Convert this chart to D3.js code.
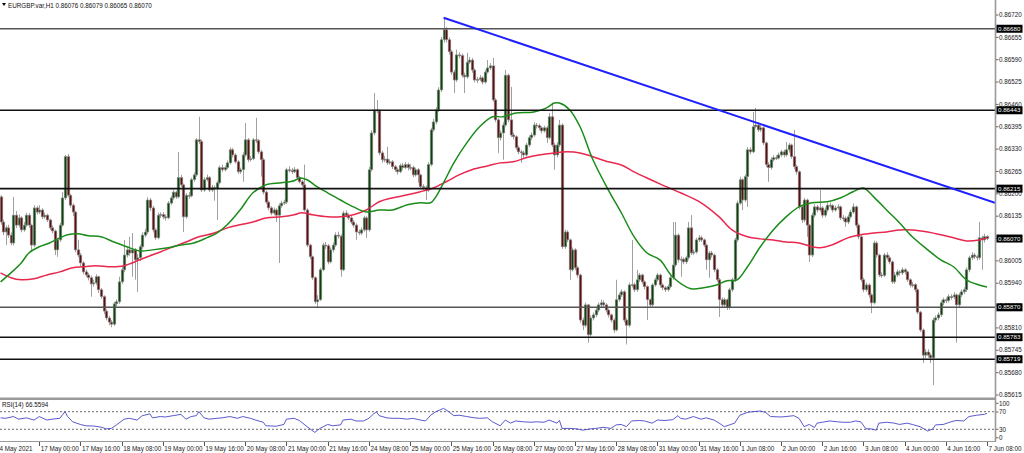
<!DOCTYPE html>
<html><head><meta charset="utf-8">
<script src="https://cdn.jsdelivr.net/npm/d3@7"></script>
<style>html,body{margin:0;padding:0;background:#fff;overflow:hidden}svg{display:block}</style>
</head><body><svg id="c" width="1024" height="453"></svg>
<script>
// ---------- DATA (prices in points of 0.00001 above 0.80000) ----------
const symbolText = "EURGBP.var,H1";
const headerOHLC = ["0.86076", "0.86079", "0.86065", "0.86070"];
const PRICE_BASE = 0.8, POINT = 0.00001;
const firstOpen = 6200;
const closes = [
6191,6118,6089,6101,6080,6057,6138,6109,6130,6095,
6109,6138,6109,6051,6159,6147,6153,6133,6138,6124,
6101,6092,6037,6066,6109,6188,6308,6196,6167,6147,
6037,6022,5999,5973,5964,5956,5938,5941,5959,5921,
5901,5859,5839,5827,5821,5880,5886,5944,5979,6022,
6037,6028,6037,6008,6014,6046,6080,6089,6182,6159,
6095,6072,6138,6140,6133,6130,6173,6188,6205,6191,
6247,6226,6133,6196,6194,6241,6255,6357,6352,6211,
6241,6247,6211,6218,6215,6232,6276,6270,6276,6290,
6328,6313,6293,6264,6270,6313,6357,6299,6302,6357,
6355,6322,6299,6205,6176,6159,6144,6153,6138,6165,
6173,6176,6270,6268,6264,6270,6247,6235,6226,6153,
6051,6017,5956,5886,5892,5979,6051,6049,6002,6037,
6051,6080,6077,5979,6144,6138,6130,6118,6109,6089,
6086,6095,6130,6095,6270,6377,6444,6441,6319,6299,
6301,6290,6293,6279,6270,6264,6282,6276,6285,6276,
6277,6255,6270,6255,6221,6218,6211,6285,6386,6409,
6444,6502,6648,6677,6648,6613,6554,6531,6604,6602,
6545,6540,6583,6589,6560,6531,6533,6537,6525,6554,
6566,6572,6473,6415,6363,6377,6400,6545,6415,6371,
6366,6334,6322,6319,6313,6342,6363,6371,6400,6398,
6392,6383,6392,6363,6424,6342,6313,6342,6400,6046,
6089,6066,5979,6037,5985,5964,5833,5818,5877,5790,
5839,5848,5862,5877,5883,5877,5862,5848,5833,5804,
5892,5906,5915,5833,5818,5935,5936,5921,5950,5964,
5944,5930,5892,5877,5935,5950,5964,5935,5927,5921,
5930,5956,5993,6080,6008,6010,6002,6014,6101,6028,
6031,6066,6072,6066,6051,6008,6028,6022,5979,5950,
5892,5877,5892,5869,5921,5950,6066,6173,6241,6182,
6250,6328,6322,6395,6400,6386,6392,6348,6285,6276,
6299,6305,6304,6313,6322,6313,6328,6342,6308,6279,
6264,6162,6124,6182,6109,6022,6138,6162,6153,6159,
6138,6153,6167,6166,6153,6159,6162,6130,6129,6118,
6133,6147,6162,6109,6075,5950,5921,5935,5906,5883,
6057,6022,5964,5963,6022,6014,6002,5944,5964,5973,
5970,5979,5973,5950,5935,5936,5921,5856,5804,5731,
5740,5731,5723,5833,5839,5848,5883,5892,5890,5901,
5900,5906,5877,5906,5915,5921,5979,6014,6022,6017,
6014,6072,6066,6076,6070];
const highs = [
6215,6196,6125,6108,6110,6088,6191,6150,6140,6135,
6118,6145,6144,6113,6167,6165,6167,6158,6145,6142,
6128,6108,6096,6072,6115,6205,6313,6316,6200,6172,
6150,6066,6028,6004,5980,5970,5962,5950,5966,5962,
5926,5905,5864,5845,5833,5886,5893,5959,5988,6066,
6045,6075,6086,6042,6025,6052,6088,6098,6190,6188,
6165,6100,6145,6146,6147,6140,6179,6194,6212,6209,
6322,6255,6230,6202,6205,6247,6262,6362,6424,6358,
6248,6256,6252,6226,6224,6238,6282,6285,6282,6297,
6335,6333,6318,6298,6276,6320,6406,6362,6310,6362,
6421,6360,6328,6304,6210,6180,6164,6160,6158,6172,
6180,6183,6276,6280,6275,6278,6274,6252,6240,6285,
6158,6055,6020,5960,5905,5985,6058,6060,6054,6044,
6058,6088,6090,6082,6150,6152,6143,6135,6124,6114,
6096,6102,6136,6135,6278,6385,6493,6473,6446,6325,
6310,6337,6300,6298,6284,6276,6288,6290,6292,6290,
6286,6282,6276,6275,6258,6228,6224,6292,6392,6418,
6452,6510,6656,6712,6685,6655,6618,6560,6619,6612,
6608,6552,6610,6598,6595,6565,6540,6545,6542,6560,
6589,6580,6595,6478,6420,6384,6408,6560,6550,6511,
6378,6370,6340,6328,6325,6348,6370,6378,6408,6406,
6404,6396,6398,6397,6435,6465,6348,6350,6415,6405,
6096,6094,6070,6044,6042,5990,5968,5840,5884,5880,
5846,5855,5868,5884,5892,5890,5882,5866,5852,5838,
5950,5912,5922,5920,5838,5942,6066,5942,5979,5970,
5968,5948,5934,5896,5940,5956,5970,5968,5940,5932,
5936,5962,6118,6118,6085,6018,6015,6020,6118,6138,
6038,6072,6080,6078,6070,6055,6034,6034,6026,5984,
5955,5898,5898,5896,5927,5956,6072,6180,6250,6245,
6256,6336,6335,6438,6450,6408,6400,6396,6352,6292,
6306,6312,6312,6320,6328,6328,6351,6348,6346,6386,
6284,6268,6168,6188,6186,6112,6145,6170,6168,6211,
6164,6160,6174,6175,6170,6166,6170,6166,6138,6134,
6140,6154,6172,6166,6114,6080,5956,5942,5940,5910,
6064,6062,6026,5972,6028,6030,6020,6006,5972,5980,
5978,5986,5984,5976,5955,5944,5940,5925,5860,5808,
5748,5748,5736,5840,5846,5855,5890,5898,5898,5908,
5908,5914,5910,5912,5922,5928,5986,6020,6030,6028,
6022,6118,6078,6084,6079];
const lows = [
6180,6110,6080,6051,6072,6051,6050,6100,6102,6088,
6090,6104,6101,6031,6045,6140,6141,6127,6128,6118,
6095,6085,6022,6017,6060,6104,6182,6190,6160,6135,
6030,6015,5990,5966,5958,5948,5901,5930,5935,5912,
5895,5850,5832,5818,5812,5816,5872,5880,5938,5972,
6015,6020,5959,5950,5915,6005,6040,6074,6083,6150,
6088,6066,6068,6130,6126,6122,6126,6168,6183,6185,
6187,6220,6089,6128,6186,6190,6235,6250,6345,6205,
6206,6236,6205,6205,6180,6124,6228,6264,6265,6272,
6285,6306,6288,6258,6258,6235,6308,6292,6294,6298,
6348,6316,6250,6198,6170,6152,6138,6138,6118,5999,
6160,6168,6170,6262,6258,6260,6240,6230,6220,6148,
6045,6010,5950,5880,5871,5888,5975,6040,5995,5998,
6030,6046,6070,5959,5975,6132,6124,6112,6102,6066,
6080,6080,6090,6072,6090,6265,6370,6435,6312,6290,
6292,6284,6285,6272,6264,6256,6260,6270,6272,6268,
6268,6248,6250,6232,6214,6210,6182,6205,6280,6380,
6402,6438,6496,6640,6640,6605,6546,6493,6525,6594,
6538,6493,6535,6578,6552,6524,6522,6528,6518,6520,
6550,6560,6468,6408,6319,6355,6299,6395,6408,6365,
6358,6328,6315,6290,6305,6308,6336,6356,6366,6390,
6385,6376,6378,6348,6358,6336,6270,6306,6336,6040,
6040,6060,5950,5974,5978,5956,5825,5804,5812,5767,
5785,5832,5842,5856,5870,5870,5855,5840,5826,5796,
5800,5886,5900,5826,5762,5812,5928,5914,5915,5944,
5938,5922,5833,5870,5872,5930,5945,5928,5920,5915,
5916,5926,5950,5988,6000,5959,5995,5996,6008,6022,
6022,6026,6060,6060,6045,5979,5956,6015,5972,5944,
5842,5870,5870,5862,5864,5915,5944,6060,6168,6153,
6176,6162,6315,6318,6390,6380,6380,6342,6278,6235,
6270,6294,6298,6300,6308,6306,6308,6320,6302,6272,
6256,6155,6115,6118,6075,6002,6016,6132,6146,6148,
6130,6132,6148,6158,6146,6148,6154,6124,6120,6104,
6112,6128,6142,6102,6068,5944,5914,5915,5898,5853,
5878,6015,5958,5956,5958,6008,5995,5938,5938,5958,
5962,5964,5966,5944,5928,5928,5914,5850,5798,5708,
5722,5724,5708,5644,5826,5832,5842,5876,5882,5884,
5892,5894,5767,5870,5900,5908,5915,5972,6008,6010,
6006,6008,5979,6058,6065];

// moving averages (bar index, value in points)
const maGreenBars = [1,5,9,12,16,20,24,27,31,35,40,45,50,55,60,66,71,76,81,85,89,94,99,104,110,115,117,120,124,128,133,138,143,148,153,159,164,168,170,173,177,182,187,192,196,201,208,213,216,218,222,226,231,237,242,247,252,257,262,269,274,279,283,287,291,296,301,306,311,316,322,327,332,336,340,345,350,355,361,366,371,376,381,384];
const maGreenVals = [5944,5970,5999,6028,6046,6057,6072,6081,6084,6078,6075,6060,6046,6034,6037,6043,6051,6057,6072,6086,6110,6153,6203,6226,6232,6238,6246,6241,6220,6203,6182,6162,6147,6153,6153,6168,6174,6174,6191,6232,6290,6348,6395,6424,6424,6435,6438,6450,6464,6464,6444,6395,6299,6211,6145,6075,6028,6008,5958,5924,5927,5935,5947,5950,5988,6046,6095,6133,6162,6174,6177,6188,6206,6217,6191,6153,6116,6075,6037,6008,5988,5950,5935,5929];
const maRedBars = [1,5,9,14,19,24,29,33,38,44,49,52,58,63,68,73,78,84,89,94,99,104,110,115,118,122,128,133,138,143,148,153,159,164,169,174,179,184,190,195,200,205,210,216,221,226,231,237,242,247,252,257,265,273,280,285,291,296,301,306,311,316,319,324,330,335,340,345,350,355,361,366,371,376,381,384];
const maRedVals = [5970,5956,5950,5953,5964,5973,5985,5988,5991,5988,5991,5999,6017,6031,6046,6060,6075,6086,6101,6110,6118,6130,6133,6139,6145,6139,6133,6133,6139,6153,6177,6188,6197,6206,6217,6235,6255,6270,6281,6290,6293,6305,6313,6319,6322,6319,6308,6293,6284,6264,6246,6229,6203,6174,6133,6095,6075,6069,6066,6060,6057,6046,6043,6052,6072,6081,6086,6089,6095,6095,6089,6081,6072,6063,6066,6072];

// RSI(14) samples (bar index, value)
const rsiBars = [1,3,6,8,11,14,16,19,21,24,26,27,29,32,34,37,40,42,44,46,49,51,54,56,59,60,63,65,68,71,73,75,77,78,80,82,85,87,90,93,95,98,100,103,104,108,111,112,115,117,120,123,125,128,130,133,134,137,139,142,144,146,147,148,151,153,156,159,161,164,166,168,170,173,175,177,179,182,185,187,190,192,195,197,199,201,204,207,209,212,214,217,218,219,222,225,227,230,232,235,238,240,242,244,246,249,251,254,256,259,262,264,265,267,270,273,275,278,280,282,284,286,288,291,293,296,298,300,304,306,309,311,313,315,317,318,320,323,326,328,331,333,335,337,339,341,342,345,348,350,353,355,358,361,363,364,367,370,372,375,377,380,383,384];
const rsiVals = [56,55,59,53,56,51,59,51,53,55,70,59,47,41,38,37.5,35,31,32,40,53,55,51,61,65,56,59,58,61,64,53,59,61,70,56,53,55,56,59,55,59,55,51,46,38,37,41,53,55,50,36,23,32,41,38,40,51,53,49,49,55,66,69,61,56,55,55,53,55,51,49,62,70,77.5,70,61,62,59,56,55,56,47,38,51,44,49,47,46,47,46,51,44,50,32,32,31,28,31,32,34.5,32,40,41,36,49,50,49,44,51,50,52,61,55,53,59,53,56,51,44,36,40,44,62,68.5,70,71.5,68.5,59,58,59,61,55,36,41,34,44,46,49,47,46,46,49,47,31,31,28,44,46,44,41,44,41,36,26,31,40,41,47,50,49,59,62,64,66.5594];
const rsiLevels = [70, 30];
const rsiAxisLabels = [100, 70, 30, 0];

// axes
const timeTickBars = [0,16,32,48,64,80,96,112,128,144,160,176,192,208,224,240,256,272,288,304,320,336,352,368,384];
const timeLabels = ["14 May 2021","17 May 00:00","17 May 16:00","18 May 08:00","19 May 00:00","19 May 16:00","20 May 08:00","21 May 00:00","21 May 16:00","24 May 08:00","25 May 00:00","25 May 16:00","26 May 08:00","27 May 00:00","27 May 16:00","28 May 08:00","31 May 00:00","31 May 16:00","1 Jun 08:00","2 Jun 00:00","2 Jun 16:00","3 Jun 08:00","4 Jun 00:00","4 Jun 16:00","7 Jun 08:00"];
const priceTicks = [0.86720,0.86655,0.86590,0.86525,0.86460,0.86395,0.86330,0.86265,0.86200,0.86135,0.86070,0.86005,0.85940,0.85875,0.85810,0.85745,0.85680,0.85615];
const levelPrices = [0.86680, 0.86443, 0.86215, 0.85870, 0.85783, 0.85719];
const lastPrice = 0.86070;
const trendBars = [173, 294];
const trendPrices = [0.86712, 0.86408];

// ---------- DRAW ----------
const svg = d3.select("#c");
const FONT = "'Liberation Sans', Arial, sans-serif";
const plotR = 995;
const toP = v => PRICE_BASE + v * POINT;
const x = d3.scaleLinear().domain([0, 384]).range([-2, 987]);
const y = d3.scaleLinear().domain([0.85615, 0.86720]).range([395, 15]);
const yr = d3.scaleLinear().domain([0, 100]).range([442.5, 398.5]);

const defs = svg.append("defs");
defs.append("clipPath").attr("id", "cm").append("rect").attr("x", 0).attr("y", 0).attr("width", plotR).attr("height", 397.5);
defs.append("clipPath").attr("id", "cr").append("rect").attr("x", 0).attr("y", 400).attr("width", plotR).attr("height", 41);

svg.append("rect").attr("width", 1024).attr("height", 453).attr("fill", "#fff");

const main = svg.append("g").attr("clip-path", "url(#cm)");

// candles
const bars = closes.map((c, i) => ({i, o: i === 0 ? firstOpen : closes[i-1], h: highs[i], l: lows[i], c}));
const cg = main.append("g");
cg.selectAll("line.w").data(bars).join("line")
  .attr("x1", d => Math.round(x(d.i)) + 0.5).attr("x2", d => Math.round(x(d.i)) + 0.5)
  .attr("y1", d => y(toP(d.h))).attr("y2", d => y(toP(d.l)))
  .attr("stroke", "#a0a0a0").attr("stroke-width", 1);
cg.selectAll("rect.b").data(bars).join("rect")
  .attr("x", d => Math.round(x(d.i)) - 0.8).attr("width", 2.6)
  .attr("y", d => y(toP(Math.max(d.o, d.c))))
  .attr("height", d => Math.max(1, Math.abs(y(toP(d.o)) - y(toP(d.c)))))
  .attr("fill", d => d.c >= d.o ? "#0d440d" : "#5a1010")
  .attr("stroke", "#989898").attr("stroke-width", 0.6);

// moving averages
const maLine = d3.line().x(d => x(d[0])).y(d => y(toP(d[1]))).curve(d3.curveCatmullRom.alpha(0.5));
main.append("path").datum(maRedBars.map((b, k) => [b, maRedVals[k]]))
  .attr("d", maLine).attr("fill", "none").attr("stroke", "#e8284e").attr("stroke-width", 1.5);
main.append("path").datum(maGreenBars.map((b, k) => [b, maGreenVals[k]]))
  .attr("d", maLine).attr("fill", "none").attr("stroke", "#1a8c1a").attr("stroke-width", 1.5);

// horizontal levels
main.selectAll("line.lv").data(levelPrices).join("line")
  .attr("x1", 0).attr("x2", plotR)
  .attr("y1", d => y(d)).attr("y2", d => y(d))
  .attr("stroke", (d, k) => (k === 0 || k === 3) ? "#555" : "#111").attr("stroke-width", 1.6);

// trend line (ray to right edge)
const bEnd = x.invert(plotR);
const slope = (trendPrices[1] - trendPrices[0]) / (trendBars[1] - trendBars[0]);
main.append("line")
  .attr("x1", x(trendBars[0])).attr("y1", y(trendPrices[0]))
  .attr("x2", x(bEnd)).attr("y2", y(trendPrices[0] + slope * (bEnd - trendBars[0])))
  .attr("stroke", "#1f1fff").attr("stroke-width", 2);

// header
svg.append("path").attr("d", "M2,3 L6,3 L4,6 Z").attr("fill", "#000");
svg.append("text").attr("x", 8).attr("y", 7.5).attr("font-family", FONT).attr("font-size", 6.3).attr("fill", "#111")
  .text(symbolText + "  " + headerOHLC.join(" "));

// panel separator
svg.append("rect").attr("x", 0).attr("y", 397.5).attr("width", plotR).attr("height", 2.5).attr("fill", "#9a9a9a");

// RSI panel
const rg = svg.append("g").attr("clip-path", "url(#cr)");
rg.selectAll("line.rl").data(rsiLevels).join("line")
  .attr("x1", 0).attr("x2", plotR).attr("y1", d => yr(d)).attr("y2", d => yr(d))
  .attr("stroke", "#444").attr("stroke-width", 0.8).attr("stroke-dasharray", "2,2");
rg.append("path").datum(rsiBars.map((b, k) => [b, rsiVals[k]]))
  .attr("d", d3.line().x(d => x(d[0])).y(d => yr(d[1])))
  .attr("fill", "none").attr("stroke", "#4646c8").attr("stroke-width", 0.9);
svg.append("text").attr("x", 2).attr("y", 406.5).attr("font-family", FONT).attr("font-size", 6.3).attr("fill", "#111")
  .text("RSI(14) " + rsiVals[rsiVals.length - 1].toFixed(4));

// right axis
svg.append("line").attr("x1", plotR + 0.5).attr("x2", plotR + 0.5).attr("y1", 0).attr("y2", 441.5)
  .attr("stroke", "#9a9a9a").attr("stroke-width", 1.6);
const pa = svg.append("g");
pa.selectAll("line").data(priceTicks).join("line")
  .attr("x1", plotR + 1).attr("x2", plotR + 3.5).attr("y1", d => y(d)).attr("y2", d => y(d)).attr("stroke", "#666");
pa.selectAll("text").data(priceTicks).join("text")
  .attr("x", 999).attr("y", d => y(d)).attr("dy", "0.35em")
  .attr("font-family", FONT).attr("font-size", 6.3).attr("fill", "#222")
  .text(d => d3.format(".5f")(d));
const rsiLabelY = {100: 403.3, 70: 412, 30: 429.3, 0: 437.8};
const ra = svg.append("g");
ra.selectAll("text").data(rsiAxisLabels).join("text")
  .attr("x", 999).attr("y", d => rsiLabelY[d]).attr("dy", "0.35em")
  .attr("font-family", FONT).attr("font-size", 6.3).attr("fill", "#222").text(d => d);
ra.selectAll("line").data(rsiAxisLabels).join("line")
  .attr("x1", plotR + 1).attr("x2", plotR + 3.5).attr("y1", d => rsiLabelY[d]).attr("y2", d => rsiLabelY[d]).attr("stroke", "#666");

// level labels + current price label
const tags = levelPrices.concat([lastPrice]);
const tg = svg.append("g");
tg.selectAll("rect").data(tags).join("rect")
  .attr("x", 996.5).attr("y", d => y(d) - 4).attr("width", 26).attr("height", 8).attr("fill", "#000");
tg.selectAll("text").data(tags).join("text")
  .attr("x", 998).attr("y", d => y(d)).attr("dy", "0.35em")
  .attr("font-family", FONT).attr("font-size", 6.2).attr("fill", "#fff")
  .text(d => d3.format(".5f")(d));

// bottom time axis
svg.append("line").attr("x1", 0).attr("x2", plotR + 1).attr("y1", 441.5).attr("y2", 441.5)
  .attr("stroke", "#9a9a9a").attr("stroke-width", 1.2);
const ta = svg.append("g");
ta.selectAll("line").data(timeTickBars).join("line")
  .attr("x1", d => Math.round(x(d)) + 0.5).attr("x2", d => Math.round(x(d)) + 0.5)
  .attr("y1", 442).attr("y2", 446).attr("stroke", "#555");
ta.selectAll("text").data(timeTickBars).join("text")
  .attr("x", (d, k) => k === 0 ? x(d) - 2 : x(d) + 1.5).attr("y", 448.5).attr("dy", "0.35em")
  .attr("font-family", FONT).attr("font-size", 6.3).attr("fill", "#222")
  .text((d, k) => timeLabels[k]);
</script>
</body></html>
